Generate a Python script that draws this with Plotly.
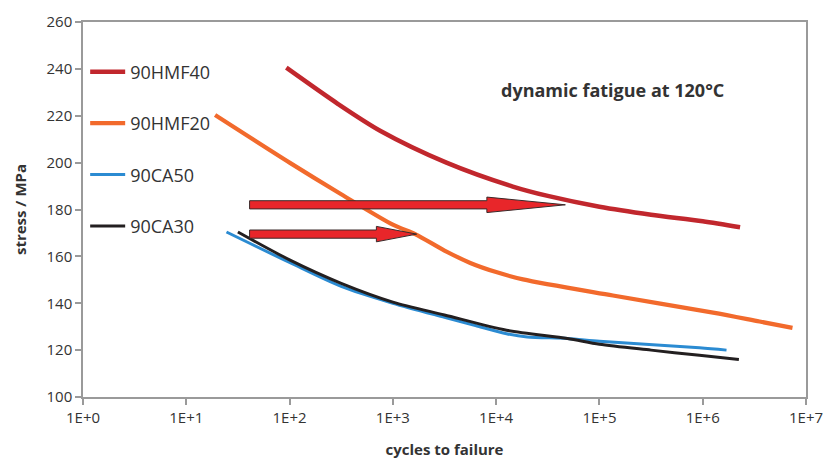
import math
import plotly.graph_objects as go

# Fatigue curves: cycles to failure vs. stress (MPa)
hmf40_cycles = [93, 295, 760, 3300, 14500, 31600, 100000, 316000, 1000000, 2300000]
hmf40_stress = [240.5, 225, 213.5, 200, 189.8, 185.8, 181.2, 177.8, 175, 172.4]

hmf20_cycles = [19, 100, 316, 1000, 1660, 3160, 5620, 10000, 18200, 135000, 1260000, 3550000, 7400000]
hmf20_stress = [220.3, 200, 186.5, 173.5, 169.4, 162.5, 157.2, 153.3, 150.2, 143.3, 136, 132.2, 129.5]

ca50_cycles = [24.5, 100, 316, 1000, 3160, 6300, 12600, 20000, 49000, 100000, 930000, 1700000]
ca50_stress = [170.4, 157.4, 147.2, 140, 134, 130.5, 127, 125.6, 125, 123.8, 121, 120]

ca30_cycles = [31.6, 100, 316, 1000, 3160, 12600, 49000, 100000, 316000, 930000, 2240000]
ca30_stress = [170.4, 158.5, 148.5, 140.5, 135, 128.5, 125, 122.5, 120, 117.8, 116]

series_names = ["90HMF40", "90HMF20", "90CA50", "90CA30"]

# Horizontal block arrows (start cycles, tip cycles, stress level)
arrow_start = [41, 41]
arrow_tip = [46800, 1700]
arrow_stress = [182, 169.5]

x_tick_vals = [1, 10, 100, 1e3, 1e4, 1e5, 1e6, 1e7]
x_tick_text = ["1E+0", "1E+1", "1E+2", "1E+3", "1E+4", "1E+5", "1E+6", "1E+7"]
y_tick_vals = [100, 120, 140, 160, 180, 200, 220, 240, 260]

colors = ["#C1272D", "#F26A2C", "#2B8BD2", "#231F20"]
widths = [4.5, 4.2, 3, 3]

fig = go.Figure()

all_x = [hmf40_cycles, hmf20_cycles, ca50_cycles, ca30_cycles]
all_y = [hmf40_stress, hmf20_stress, ca50_stress, ca30_stress]
for name, xs, ys, c, w in zip(series_names, all_x, all_y, colors, widths):
    fig.add_trace(go.Scatter(
        x=xs, y=ys, mode="lines", name=name,
        line=dict(color=c, width=w, shape="spline", smoothing=0.8),
        legendgroup=name,
    ))

# Block arrows built as filled polygons in log-x space
head_len = [0.76, 0.39]      # decades
shaft_half = 1.75            # MPa
head_half = 3.3              # MPa
for s, t, yv, hl in zip(arrow_start, arrow_tip, arrow_stress, head_len):
    l0, l1 = math.log10(s), math.log10(t)
    lh = l1 - hl
    px = [l0, lh, lh, l1, lh, lh, l0, l0]
    py = [yv + shaft_half, yv + shaft_half, yv + head_half, yv,
          yv - head_half, yv - shaft_half, yv - shaft_half, yv + shaft_half]
    fig.add_trace(go.Scatter(
        x=[10 ** v for v in px], y=py, mode="lines", fill="toself",
        fillcolor="#E8262A", line=dict(color="#3a2a2a", width=1),
        showlegend=False, hoverinfo="skip",
    ))

axis_common = dict(
    showline=True, linecolor="#9a9a9a", linewidth=1.5, mirror=True,
    showgrid=False, zeroline=False, ticks="outside", ticklen=6,
    tickcolor="#9a9a9a", tickwidth=1.5, automargin=False,
    tickfont=dict(family="Open Sans", size=15, color="#333333"),
)

fig.update_layout(
    width=828, height=459,
    margin=dict(l=83, r=22, t=22, b=62),
    paper_bgcolor="white", plot_bgcolor="white",
    xaxis=dict(type="log", range=[0, 7], tickvals=x_tick_vals, ticktext=x_tick_text,
               title=dict(text="<b>cycles to failure</b>", standoff=20,
                          font=dict(family="Open Sans", size=15, color="#333333")),
               **axis_common),
    yaxis=dict(range=[100, 260], tickvals=y_tick_vals,
               title=dict(text="<b>stress / MPa</b>", standoff=16,
                          font=dict(family="Open Sans", size=15, color="#333333")),
               **axis_common),
    legend=dict(x=0.003, y=0.916, xanchor="left", yanchor="top",
                bgcolor="rgba(0,0,0,0)", tracegroupgap=25, itemwidth=35,
                font=dict(family="Open Sans", size=18, color="#333333")),
    annotations=[dict(
        x=0.732, y=0.818, xref="paper", yref="paper", xanchor="center", yanchor="middle",
        showarrow=False, text="<b>dynamic fatigue at 120°C</b>",
        font=dict(family="Open Sans", size=18, color="#333333"),
    )],
)

fig.write_html("out.html")
